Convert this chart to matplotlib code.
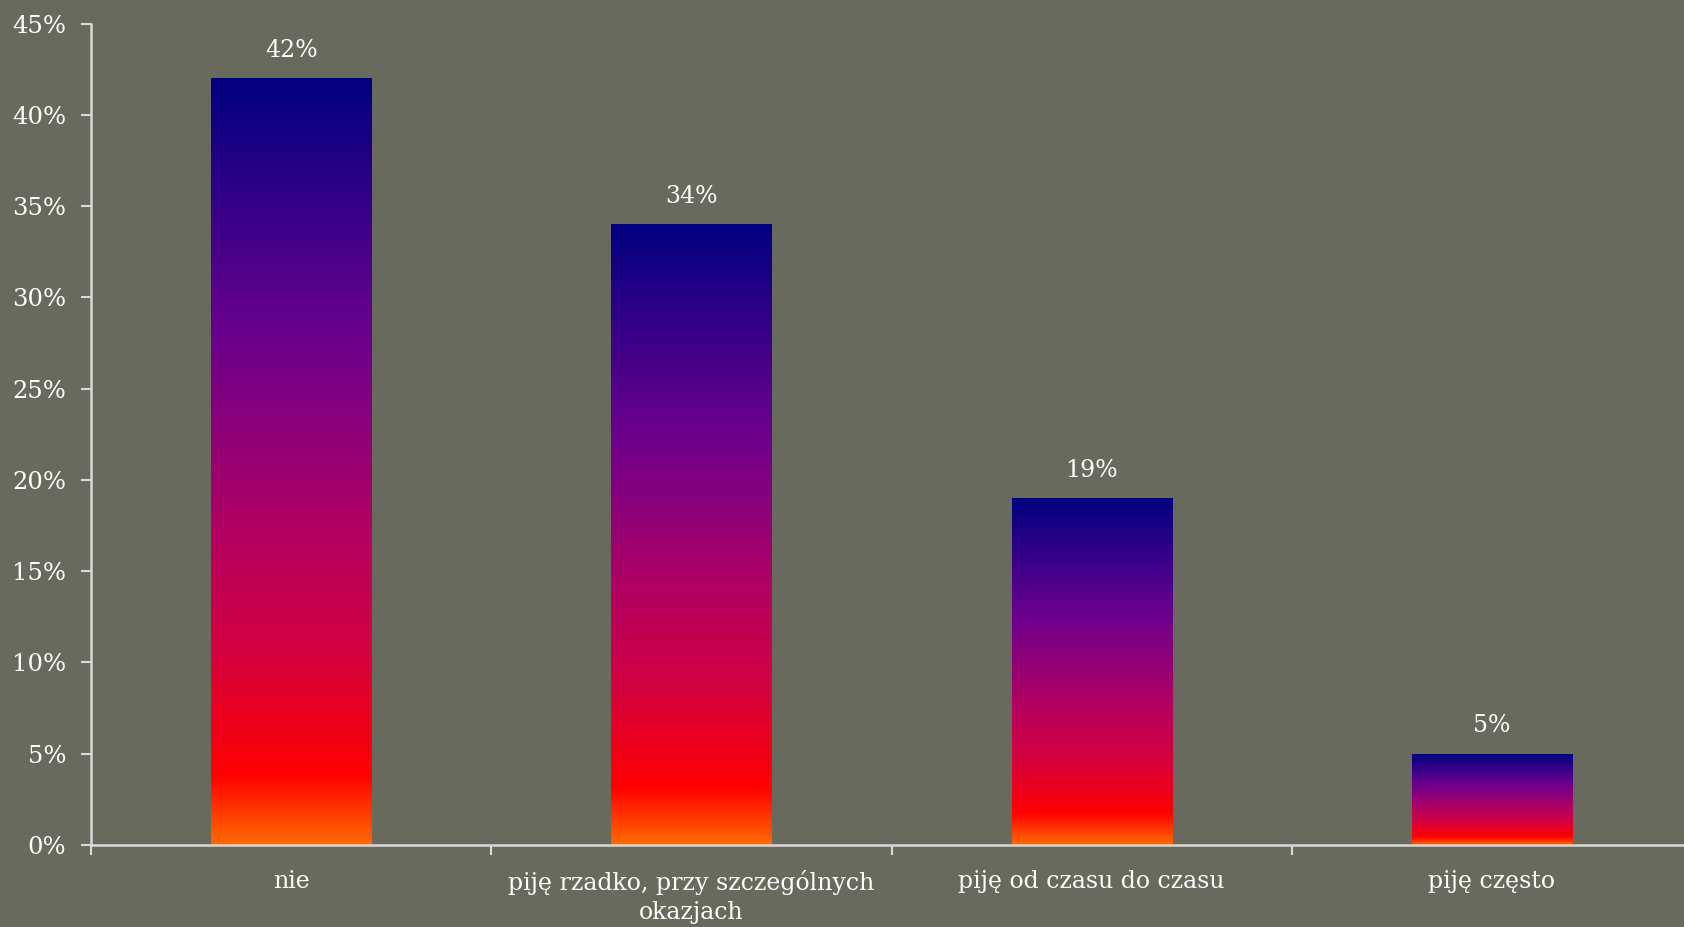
import numpy as np
import matplotlib
matplotlib.use("Agg")
import matplotlib.pyplot as plt
from matplotlib.colors import LinearSegmentedColormap

categories = ["nie", "piję rzadko, przy szczególnych\nokazjach", "piję od czasu do czasu", "piję często"]
values = [42, 34, 19, 5]
yticks = [0, 5, 10, 15, 20, 25, 30, 35, 40, 45]

bg = "#676a5c"
axis_col = "#d9d9d9"
txt = "white"
plt.rcParams['font.family'] = ['DejaVu Serif']

fig = plt.figure(figsize=(16.84, 9.27), dpi=100, facecolor=bg)
ax = fig.add_axes([0.0542, 0.0885, 0.9505, 0.886])
ax.set_facecolor(bg)

# gradient: position 0 = bottom, 1 = top
cmap = LinearSegmentedColormap.from_list("fire", [
    (0.0, "#ff6a00"),
    (0.09, "#ff0000"),
    (0.25, "#d4003e"),
    (0.42, "#b00064"),
    (0.55, "#8a007a"),
    (0.66, "#6c008c"),
    (0.82, "#3a0088"),
    (1.0, "#000080"),
])
grad = np.linspace(0, 1, 512).reshape(-1, 1)

x = np.arange(len(categories))
bars = ax.bar(x, values, width=0.4, color="none", edgecolor="none", zorder=2)
for b, v in zip(bars, values):
    x0, w, h = b.get_x(), b.get_width(), b.get_height()
    im = ax.imshow(grad, cmap=cmap, origin="lower", aspect="auto",
                   extent=[x0, x0 + w, 0, h], zorder=2, interpolation="bilinear")
    im.set_clip_path(b)
    ax.annotate(f"{v}%", (x0 + w / 2, h), xytext=(0, 12), textcoords="offset points",
                ha="center", va="bottom", color=txt, fontsize=17)

ax.set_xlim(-0.5, 3.5)
ax.set_ylim(0, 45)
ax.set_yticks(yticks)
ax.set_yticklabels([f"{t}%" for t in yticks], fontsize=17.5, color=txt)

# category labels at centers, ticks at boundaries
ax.set_xticks(np.arange(-0.5, len(categories) + 0.5, 1.0))
ax.set_xticklabels([])
ax.set_xticks(x, minor=True)
ax.set_xticklabels(categories, minor=True, fontsize=17, color=txt, linespacing=1.35)
ax.tick_params(axis="x", which="minor", length=0, pad=18)
ax.tick_params(axis="x", which="major", length=7, width=1.5, color=axis_col, direction="out")
ax.tick_params(axis="y", length=7, width=1.5, color=axis_col, direction="out", pad=11)

for s in ["top", "right"]:
    ax.spines[s].set_visible(False)
for s in ["left", "bottom"]:
    ax.spines[s].set_color(axis_col)
    ax.spines[s].set_linewidth(1.8)

fig.savefig("out.png", dpi=100, facecolor=bg)
